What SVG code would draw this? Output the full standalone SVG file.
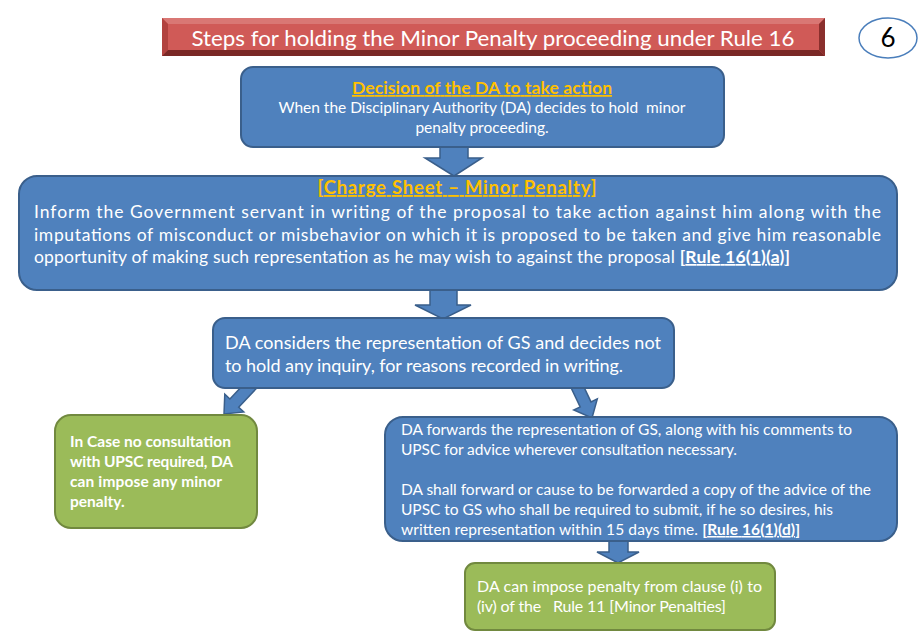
<svg xmlns="http://www.w3.org/2000/svg" width="921" height="642" viewBox="0 0 921 642">
<style>
text{font-family:Lato,"Liberation Sans",sans-serif;}
.bx{fill:#4F81BD;stroke:#3A5F8B;stroke-width:2;}
.gr{fill:#9BBB59;stroke:#71893F;stroke-width:2;}
.ar{fill:#4F81BD;stroke:#3A5F8B;stroke-width:1.5;stroke-linejoin:miter;}
.w{fill:#FFFFFF;}
.y{fill:#FFC000;text-decoration:underline;}
.b{font-weight:bold;text-decoration:underline;}
</style>
<rect x="0" y="0" width="921" height="642" fill="#FFFFFF"/>
<g id="title">
<rect x="162" y="18" width="663" height="38" fill="#CF5653"/>
<polygon points="162,18 825,18 819,24 168,24" fill="#D97774"/>
<polygon points="162,18 168,24 168,50 162,56" fill="#B2423F"/>
<polygon points="162,56 168,50 819,50 825,56" fill="#7A2826"/>
<polygon points="825,18 819,24 819,50 825,56" fill="#8A2F2D"/>
<rect x="168" y="24" width="651" height="26" fill="#D05A57"/>
<text x="493" y="46" font-size="22" text-anchor="middle" class="w" textLength="603" lengthAdjust="spacingAndGlyphs">Steps for holding the Minor Penalty proceeding under Rule 16</text>
</g>
<g id="page-number">
<ellipse cx="888" cy="38" rx="29" ry="20" fill="#FFFFFF" stroke="#4A7EBB" stroke-width="1.5"/>
<text x="888" y="47" font-size="26" text-anchor="middle" fill="#000000">6</text>
</g>
<g id="connectors">
<polygon class="ar" points="440,140 468,140 468,158 482,158 454,176 425,158 440,158"/>
<polygon class="ar" points="430,283 457,283 457,305 471,305 443,319 415,305 430,305"/>
<polygon class="ar" points="253.6,373.9 262.4,382.1 238.7,407.2 243.8,412 224,414 224.8,394.2 229.9,399"/>
<polygon class="ar" points="568.6,382.6 579.4,377.4 591,401.9 597.3,398.9 592,418 573.8,410 580.2,407"/>
<polygon class="ar" points="609,532 628,532 628,552 639,552 618,563 597,552 609,552"/>
</g>
<g id="decision">
<rect class="bx" x="241" y="67" width="483" height="80" rx="12"/>
<text x="482" y="94" font-size="17.5" font-weight="bold" text-anchor="middle" class="y" textLength="260" lengthAdjust="spacing">Decision of the DA to take action</text>
<text x="482" y="113" font-size="15.5" text-anchor="middle" class="w" xml:space="preserve" textLength="407" lengthAdjust="spacing">When the Disciplinary Authority (DA) decides to hold  minor</text>
<text x="482" y="133" font-size="15.5" text-anchor="middle" class="w">penalty proceeding.</text>
</g>
<g id="charge-sheet">
<rect class="bx" x="19" y="176" width="878" height="114" rx="18"/>
<text x="457" y="194" font-size="18.5" font-weight="bold" text-anchor="middle" class="y" textLength="279" lengthAdjust="spacing">[Charge Sheet – Minor Penalty]</text>
<text x="34" y="218" font-size="17.5" class="w" textLength="847" lengthAdjust="spacing">Inform the Government servant in writing of the proposal to take action against him along with the</text>
<text x="34" y="241" font-size="17.5" class="w" textLength="847" lengthAdjust="spacing">imputations of misconduct or misbehavior on which it is proposed to be taken and give him reasonable</text>
<text x="34" y="263" font-size="17.5" class="w" textLength="756" lengthAdjust="spacing">opportunity of making such representation as he may wish to against the proposal <tspan class="b">[Rule 16(1)(a)]</tspan></text>
</g>
<g id="considers">
<rect class="bx" x="213" y="318" width="461" height="70" rx="12"/>
<text x="225" y="349" font-size="18" class="w" textLength="436" lengthAdjust="spacing">DA considers the representation of GS and decides not</text>
<text x="225" y="372" font-size="18" class="w" textLength="398" lengthAdjust="spacing">to hold any inquiry, for reasons recorded in writing.</text>
</g>
<g id="no-consultation">
<rect class="gr" x="55" y="415" width="202" height="113" rx="16"/>
<text x="70" y="447" font-size="15.5" font-weight="bold" class="w" textLength="161" lengthAdjust="spacing">In Case no consultation</text>
<text x="70" y="467" font-size="15.5" font-weight="bold" class="w" textLength="163" lengthAdjust="spacing">with UPSC required, DA</text>
<text x="70" y="487" font-size="15.5" font-weight="bold" class="w" textLength="152" lengthAdjust="spacing">can impose any minor</text>
<text x="70" y="507" font-size="15.5" font-weight="bold" class="w">penalty.</text>
</g>
<g id="forwards">
<rect class="bx" x="385" y="417" width="512" height="124" rx="18"/>
<text x="401" y="435" font-size="15.5" class="w" textLength="451" lengthAdjust="spacing">DA forwards the representation of GS, along with his comments to</text>
<text x="401" y="455" font-size="15.5" class="w" textLength="336" lengthAdjust="spacing">UPSC for advice wherever consultation necessary.</text>
<text x="401" y="495" font-size="15.5" class="w" textLength="470" lengthAdjust="spacing">DA shall forward or cause to be forwarded a copy of the advice of the</text>
<text x="401" y="515" font-size="15.5" class="w" textLength="432" lengthAdjust="spacing">UPSC to GS who shall be required to submit, if he so desires, his</text>
<text x="401" y="535" font-size="15.5" class="w" textLength="399" lengthAdjust="spacing">written representation within 15 days time. <tspan class="b">[Rule 16(1)(d)]</tspan></text>
</g>
<g id="impose">
<rect class="gr" x="465" y="563" width="310" height="67" rx="10"/>
<text x="477" y="592" font-size="16" class="w" textLength="285" lengthAdjust="spacing">DA can impose penalty from clause (i) to</text>
<text x="477" y="612" font-size="16" class="w" xml:space="preserve" textLength="249" lengthAdjust="spacing">(iv) of the   Rule 11 [Minor Penalties]</text>
</g>
</svg>
